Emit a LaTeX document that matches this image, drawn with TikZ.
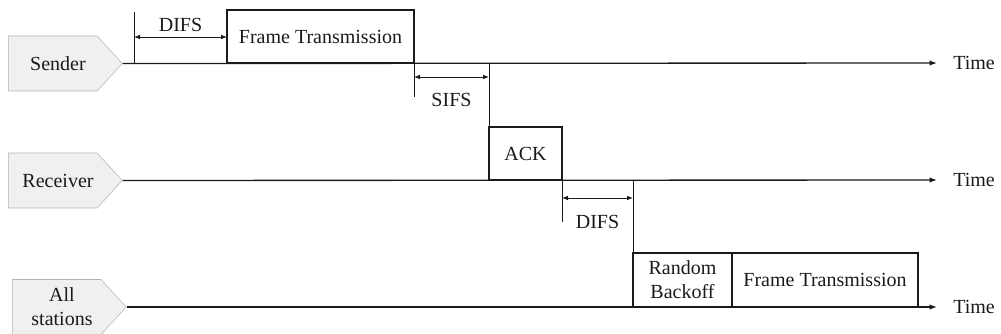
\documentclass[tikz,border=0pt]{standalone}
\usepackage{fontspec}
\setmainfont{Liberation Serif}
\usetikzlibrary{arrows.meta,positioning,shapes.symbols}
\definecolor{TagFill}{HTML}{F0F0F0}
\definecolor{TagEdge}{HTML}{B4B4B4}
\definecolor{Ink}{HTML}{1A1A1A}
\newcommand{\labelfont}{\fontsize{15}{18}\selectfont}
\tikzset{
  station/.style={signal,signal to=east,signal pointer angle=95,draw=TagEdge,fill=TagFill,
              anchor=west,minimum width=85.5pt,minimum height=41.25pt,inner sep=0pt,
              label={[stationtext]center:#1}},
  stationtext/.style={xshift=4pt,inner sep=0pt,align=center,font=\labelfont,text=Ink},
  slot/.style={draw=Ink,line width=2pt,anchor=south west,inner sep=0pt,outer sep=0pt,
              align=center,minimum height=39.75pt,font=\labelfont,text=Ink},
  timeline/.style={-{Latex[length=5.5pt,width=4pt]},line width=1pt,draw=Ink,shorten >=12pt},
  gap/.style={{Latex[length=4.5pt,width=3.5pt]}-{Latex[length=4.5pt,width=3.5pt]},line width=0.6pt,draw=Ink},
  tick/.style={line width=0.6pt,draw=Ink},
  timelabel/.style={anchor=west,inner sep=0pt,font=\labelfont,text=Ink},
  gaplabel/.style={inner sep=0pt,font=\labelfont,text=Ink}
}

\begin{document}
\begin{tikzpicture}[x=0.75pt,y=-0.75pt]
  \useasboundingbox (0,0) rectangle (1001,334);

  \node[station=Sender] (sender) at (8,63.5) {};
  \node[station=Receiver] (receiver) at (8,180.5) {};
  \node[station={All\\stations}] (all) at (12,307) {};

  \node[timelabel] (stime) at (953,63) {Time};
  \node[timelabel] (rtime) at (953,180) {Time};
  \node[timelabel] (atime) at (953,307) {Time};

  \node[slot,minimum width=140.25pt] (frame) at (227,63) {Frame Transmission};
  \node[slot,minimum width=54.75pt] (ack) at (489,180) {ACK};
  \node[slot,minimum width=74.25pt,minimum height=40.5pt] (backoff) at (633,307) {Random\\Backoff};
  \node[slot,minimum width=139.5pt,minimum height=40.5pt,right=0pt of backoff] (retx) {Frame Transmission};

  \draw[timeline] (sender.east) -- (stime.west);
  \draw[timeline] (receiver.east) -- (rtime.west);
  \draw[timeline] (all.east) -- (atime.west);

  % DIFS before the first frame
  \coordinate (difs) at (134,63);
  \draw[tick] (difs) -- ++(0,-51);
  \draw[gap] ([yshift=19.5pt]difs) coordinate (d1) -- node[gaplabel,above=3.75pt]{DIFS} (d1 -| frame.west);

  % SIFS before the ACK
  \draw[tick] (frame.south east) -- ++(0,34);
  \draw[tick] (ack.north west) -- (ack.north west |- frame.south);
  \draw[gap] ([yshift=-10.5pt]frame.south east) coordinate (s1) -- node[gaplabel,below=12pt]{SIFS} (s1 -| ack.west);

  % DIFS after the ACK
  \draw[tick] (ack.south east) -- ++(0,42);
  \draw[tick] (backoff.north west) -- (backoff.north west |- ack.south);
  \draw[gap] ([yshift=-13.5pt]ack.south east) coordinate (d2) -- node[gaplabel,below=12.75pt]{DIFS} (d2 -| backoff.west);
\end{tikzpicture}
\end{document}
